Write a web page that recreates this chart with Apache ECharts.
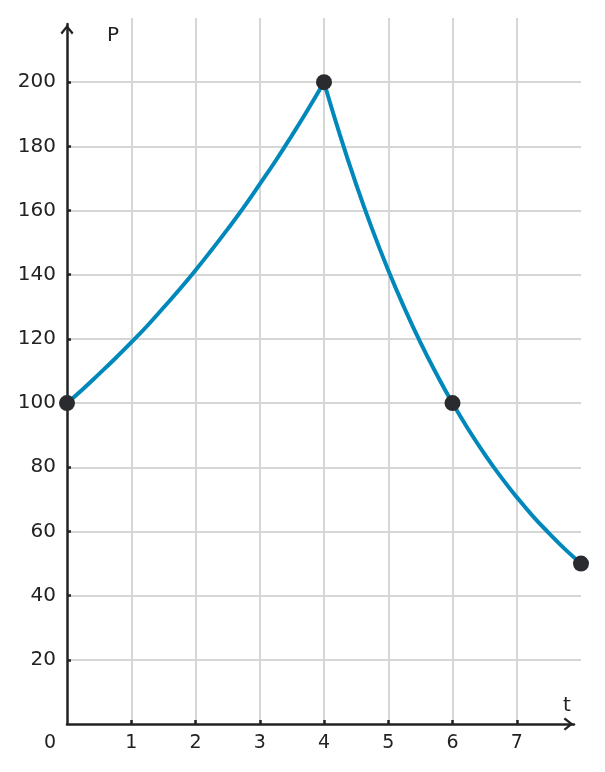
<!DOCTYPE html>
<html>
<head>
<meta charset="utf-8">
<script src="https://cdn.jsdelivr.net/npm/echarts@6/dist/echarts.min.js"></script>
<style>
  html, body { margin: 0; padding: 0; background: #fff; }
  #chart { width: 605px; height: 772px; }
</style>
</head>
<body>
<div id="chart"></div>
<script>
// values every quarter unit of t
var growthT = [0, 0.25, 0.5, 0.75, 1, 1.25, 1.5, 1.75, 2, 2.25, 2.5, 2.75, 3, 3.25, 3.5, 3.75, 4];
var growthP = [100, 104.4, 109.1, 113.9, 118.9, 124.1, 129.7, 135.4, 141.4, 147.7, 154.2, 161, 168.2, 175.6, 183.4, 191.5, 200];
var decayT = [4, 4.25, 4.5, 4.75, 5, 5.25, 5.5, 5.75, 6, 6.25, 6.5, 6.75, 7, 7.25, 7.5, 7.75, 8];
var decayP = [200, 183.4, 168.2, 154.2, 141.4, 129.7, 118.9, 109.1, 100, 91.7, 84.1, 77.1, 70.7, 64.8, 59.5, 54.5, 50];
// marked points
var pointT = [0, 4, 6, 8];
var pointP = [100, 200, 100, 50];

var xTicks = [1, 2, 3, 4, 5, 6, 7];
var yTicks = [20, 40, 60, 80, 100, 120, 140, 160, 180, 200];

function zip(a, b) {
  return a.map(function (v, i) { return [v, b[i]]; });
}

var ink = '#222222';
var gridCol = '#d6d6d6';
var blue = '#0088bb';
// open arrow head, pointing up before echarts turns it along the axis
var chevron = 'path://M6,0 L12,7.6 L10.5,9 L6,3.4 L1.5,9 L0,7.6 Z';

var myChart = echarts.init(document.getElementById('chart'));
var option = {
  animation: false,
  textStyle: { fontFamily: 'DejaVu Sans' },
  grid: [
    { left: 67, right: 24, top: 18, bottom: 48 },
    // the drawn axis lines stop a little short of the plot
    { left: 67, right: 31, top: 24, bottom: 48 }
  ],
  xAxis: [
    {
      type: 'value', gridIndex: 0,
      min: 0, max: 8, interval: 1,
      name: 't',
      nameLocation: 'end',
      nameGap: -18,
      nameTextStyle: { color: ink, fontSize: 20, verticalAlign: 'bottom', padding: [0, 0, 8, 0] },
      axisLine: { show: false },
      // ticks (and grid lines) only at the inner values
      axisTick: { show: true, inside: true, length: 4, customValues: xTicks,
        lineStyle: { color: ink, width: 2.5 } },
      splitLine: { show: true, lineStyle: { color: gridCol, width: 2 } },
      axisLabel: {
        color: ink, fontSize: 19, margin: 10,
        formatter: function (v) {
          if (v === 0) return '{z|0}';
          return xTicks.indexOf(v) >= 0 ? String(v) : '';
        },
        rich: { z: { fontSize: 19, color: ink, padding: [0, 34, 0, 0] } }
      }
    },
    {
      type: 'value', gridIndex: 1, min: 0, max: 1,
      axisLine: { show: true, symbol: ['none', chevron], symbolSize: [13, 11], symbolOffset: [0, -5.5],
        lineStyle: { color: ink, width: 2.5 } },
      axisTick: { show: false }, axisLabel: { show: false }, splitLine: { show: false }
    }
  ],
  yAxis: [
    {
      type: 'value', gridIndex: 0,
      min: 0, max: 220, interval: 20,
      name: 'P',
      nameLocation: 'end',
      nameGap: -28,
      nameTextStyle: { color: ink, fontSize: 20, align: 'left', padding: [0, 0, 0, 40] },
      axisLine: { show: false },
      axisTick: { show: true, inside: true, length: 4, customValues: yTicks,
        lineStyle: { color: ink, width: 2.5 } },
      splitLine: { show: true, lineStyle: { color: gridCol, width: 2 } },
      axisLabel: {
        color: ink, fontSize: 20, margin: 11,
        formatter: function (v) { return yTicks.indexOf(v) >= 0 ? String(v) : ''; }
      }
    },
    {
      type: 'value', gridIndex: 1, min: 0, max: 1,
      axisLine: { show: true, symbol: ['none', chevron], symbolSize: [13, 11], symbolOffset: [0, -5.5],
        lineStyle: { color: ink, width: 2.5 } },
      axisTick: { show: false }, axisLabel: { show: false }, splitLine: { show: false }
    }
  ],
  series: [
    {
      type: 'line', data: zip(growthT, growthP), smooth: true, showSymbol: false,
      lineStyle: { color: blue, width: 4 }, z: 2
    },
    {
      type: 'line', data: zip(decayT, decayP), smooth: true, showSymbol: false,
      lineStyle: { color: blue, width: 4 }, z: 2
    },
    {
      type: 'scatter', data: zip(pointT, pointP), symbolSize: 16,
      itemStyle: { color: '#2a2b2f', opacity: 1 }, z: 3
    }
  ]
};
myChart.setOption(option);
</script>
</body>
</html>
